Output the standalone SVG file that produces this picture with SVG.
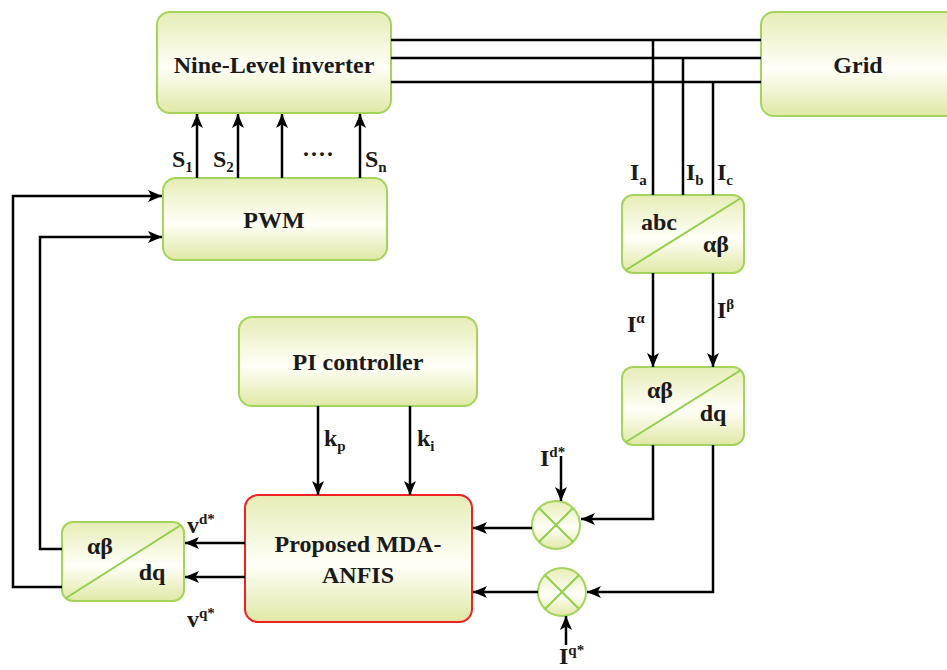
<svg xmlns="http://www.w3.org/2000/svg" width="947" height="670" viewBox="0 0 947 670">
<defs>
<linearGradient id="g" x1="0" y1="0" x2="0" y2="1">
<stop offset="0" stop-color="#e6edb6"/>
<stop offset="0.55" stop-color="#fffff8"/>
<stop offset="1" stop-color="#e0e8a6"/>
</linearGradient>
<marker id="ah" viewBox="0 0 14 12" refX="14" refY="6" markerWidth="14" markerHeight="12" markerUnits="userSpaceOnUse" orient="auto">
<path d="M0,0 L14,6 L0,12 L3.5,6 Z" fill="#000"/>
</marker>
</defs>
<style>
.box{fill:url(#g);stroke:#a3d55c;stroke-width:2}
.red{fill:url(#g);stroke:#ee2222;stroke-width:2}
.dg{stroke:#8fcf4a;stroke-width:2;fill:none}
.t{font-family:"Liberation Serif","Times New Roman",serif;font-weight:bold;fill:#1a1a1a}
.big{font-size:24px}
.lab{font-size:24px}
.sub{font-size:15px}
.w{stroke:#000;stroke-width:2.5;fill:none}
.a{stroke:#000;stroke-width:2.5;fill:none;marker-end:url(#ah)}
</style>
<rect width="947" height="670" fill="#fff"/>

<g id="inverter">
<rect class="box" x="157" y="12" width="234" height="101" rx="13"/>
<text class="t big" x="274" y="73" text-anchor="middle">Nine-Level inverter</text>
</g>
<g id="grid">
<rect class="box" x="761" y="12" width="200" height="104" rx="13"/>
<text class="t big" x="858" y="73" text-anchor="middle">Grid</text>
</g>
<g id="pwm">
<rect class="box" x="163" y="178" width="224" height="82" rx="13"/>
<text class="t big" x="274" y="228" text-anchor="middle">PWM</text>
</g>
<g id="abc-ab">
<rect class="box" x="622" y="195" width="122" height="78" rx="11"/>
<line class="dg" x1="626" y1="270" x2="741" y2="198"/>
<text class="t lab" x="659" y="230" text-anchor="middle">abc</text>
<text class="t lab" x="716" y="252" text-anchor="middle">αβ</text>
</g>
<g id="ab-dq">
<rect class="box" x="622" y="367" width="122" height="78" rx="11"/>
<line class="dg" x1="626" y1="442" x2="741" y2="370"/>
<text class="t lab" x="660" y="398" text-anchor="middle">αβ</text>
<text class="t lab" x="713" y="421" text-anchor="middle">dq</text>
</g>
<g id="pi">
<rect class="box" x="239" y="317" width="238" height="89" rx="13"/>
<text class="t big" x="358" y="370" text-anchor="middle">PI controller</text>
</g>
<g id="anfis">
<rect class="red" x="245" y="495" width="227" height="127" rx="13"/>
<text class="t big" x="358" y="552" text-anchor="middle">Proposed MDA-</text>
<text class="t big" x="358" y="583" text-anchor="middle">ANFIS</text>
</g>
<g id="dq-ab">
<rect class="box" x="62" y="522" width="122" height="79" rx="11"/>
<line class="dg" x1="66" y1="598" x2="181" y2="525"/>
<text class="t lab" x="100" y="554" text-anchor="middle">αβ</text>
<text class="t lab" x="152" y="580" text-anchor="middle">dq</text>
</g>
<g id="sum1">
<circle class="box" cx="556" cy="525" r="24"/>
<line class="dg" x1="539" y1="508" x2="573" y2="542"/>
<line class="dg" x1="573" y1="508" x2="539" y2="542"/>
</g>
<g id="sum2">
<circle class="box" cx="562" cy="592" r="24"/>
<line class="dg" x1="545" y1="575" x2="579" y2="609"/>
<line class="dg" x1="579" y1="575" x2="545" y2="609"/>
</g>

<g id="connectors">
<line class="w" x1="391" y1="40" x2="761" y2="40"/>
<line class="w" x1="391" y1="58" x2="761" y2="58"/>
<line class="w" x1="391" y1="82" x2="761" y2="82"/>
<line class="w" x1="653" y1="40" x2="653" y2="195"/>
<line class="w" x1="683" y1="58" x2="683" y2="195"/>
<line class="w" x1="713" y1="82" x2="713" y2="195"/>
<line class="a" x1="653" y1="273" x2="653" y2="367"/>
<line class="a" x1="713" y1="273" x2="713" y2="367"/>
<polyline class="a" points="653,445 653,519 581,519"/>
<polyline class="a" points="713,445 713,592 587,592"/>
<line class="a" x1="561" y1="456" x2="561" y2="501"/>
<line class="a" x1="566" y1="645" x2="566" y2="616"/>
<line class="a" x1="532" y1="528" x2="473" y2="528"/>
<line class="a" x1="538" y1="592" x2="473" y2="592"/>
<line class="a" x1="318" y1="406" x2="318" y2="495"/>
<line class="a" x1="410" y1="406" x2="410" y2="495"/>
<line class="a" x1="245" y1="543" x2="185" y2="543"/>
<line class="a" x1="245" y1="577" x2="185" y2="577"/>
<polyline class="a" points="62,549 40,549 40,237 162,237"/>
<polyline class="a" points="62,587 13,587 13,196 162,196"/>
<line class="a" x1="197" y1="178" x2="197" y2="114"/>
<line class="a" x1="238" y1="178" x2="238" y2="114"/>
<line class="a" x1="282" y1="178" x2="282" y2="114"/>
<line class="a" x1="360" y1="178" x2="360" y2="114"/>
</g>

<g id="labels">
<text class="t lab" x="172" y="167">S<tspan class="sub" dy="5">1</tspan></text>
<text class="t lab" x="213" y="167">S<tspan class="sub" dy="5">2</tspan></text>
<text class="t lab" x="302" y="162">····</text>
<text class="t lab" x="365" y="167">S<tspan class="sub" dy="5">n</tspan></text>
<text class="t lab" x="630" y="180">I<tspan class="sub" dy="5">a</tspan></text>
<text class="t lab" x="686" y="180">I<tspan class="sub" dy="5">b</tspan></text>
<text class="t lab" x="717" y="180">I<tspan class="sub" dy="5">c</tspan></text>
<text class="t lab" x="627" y="332">I<tspan class="sub" dy="-9">α</tspan></text>
<text class="t lab" x="717" y="318">I<tspan class="sub" dy="-9">β</tspan></text>
<text class="t lab" x="324" y="446">k<tspan class="sub" dy="5">p</tspan></text>
<text class="t lab" x="417" y="446">k<tspan class="sub" dy="5">i</tspan></text>
<text class="t lab" x="540" y="466">I<tspan class="sub" dy="-9">d*</tspan></text>
<text class="t lab" x="559" y="664">I<tspan class="sub" dy="-9">q*</tspan></text>
<text class="t lab" x="187" y="533">v<tspan class="sub" dy="-9">d*</tspan></text>
<text class="t lab" x="187" y="627">v<tspan class="sub" dy="-9">q*</tspan></text>
</g>
</svg>
